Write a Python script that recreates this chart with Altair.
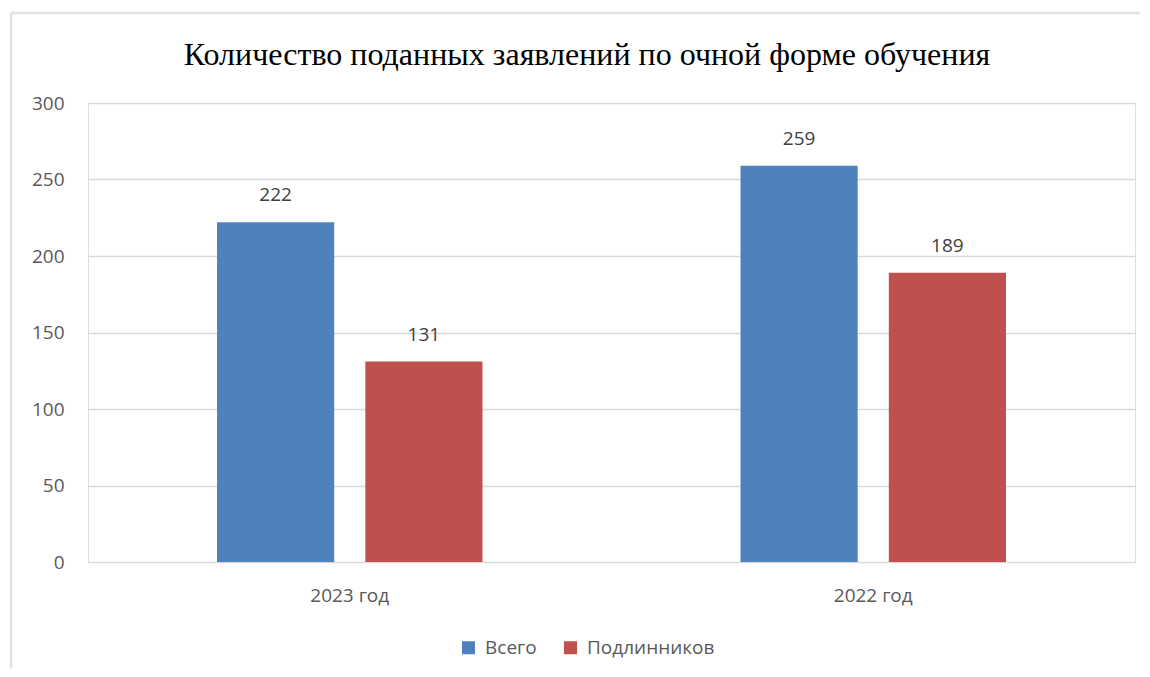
import altair as alt
import pandas as pd

years = ["2023 год", "2022 год"]
series = ["Всего", "Подлинников"]
vsego = [222, 259]
podl = [131, 189]
colors = ["#4F81BD", "#C0504D"]

rows = []
for i, y in enumerate(years):
    rows.append({"year": y, "series": series[0], "value": vsego[i]})
    rows.append({"year": y, "series": series[1], "value": podl[i]})
df = pd.DataFrame(rows)

FONT = "Open Sans"

base = alt.Chart(df).encode(
    x=alt.X("year:N", sort=years,
            scale=alt.Scale(paddingInner=0, paddingOuter=0),
            axis=alt.Axis(title=None, labelAngle=0, domain=False, ticks=False,
                          labelPadding=24, labelFontSize=19, labelColor="#595959",
                          labelFont=FONT)),
    xOffset=alt.XOffset("series:N", sort=series,
                        scale=alt.Scale(paddingInner=0.21, paddingOuter=0.87)),
)

bars = base.mark_bar().encode(
    y=alt.Y("value:Q", scale=alt.Scale(domain=[0, 300]),
            axis=alt.Axis(title=None, values=[0, 50, 100, 150, 200, 250, 300],
                          domain=False, ticks=False, labelPadding=24,
                          labelFontSize=19, labelColor="#595959", labelFont=FONT,
                          gridColor="#d9d9d9", gridWidth=1.5)),
    color=alt.Color("series:N", sort=series,
                    scale=alt.Scale(domain=series, range=colors),
                    legend=alt.Legend(title=None, orient="none", direction="horizontal",
                                      legendX=371, legendY=535,
                                      symbolType="square", symbolSize=169,
                                      symbolStrokeWidth=0, labelFontSize=19,
                                      labelColor="#595959", labelFont=FONT,
                                      labelOffset=7, columnPadding=24)),
)

labels = base.mark_text(dy=-17, baseline="bottom", fontSize=19, color="#404040",
                        font=FONT).encode(
    y="value:Q",
    text="value:Q",
)

title_df = pd.DataFrame({"t": ["Количество поданных заявлений по очной форме обучения"]})
title = alt.Chart(title_df).mark_text(font="Liberation Serif", fontSize=32,
                                      color="#000000", baseline="alphabetic",
                                      align="center").encode(
    text="t:N", x=alt.value(499), y=alt.value(-38))

frame_v = alt.Chart(pd.DataFrame({"a": [0]})).mark_rule(color="#e3e3e3", strokeWidth=2.5).encode(
    x=alt.value(-77), y=alt.value(-90), y2=alt.value(600))
frame_h = alt.Chart(pd.DataFrame({"a": [0]})).mark_rule(color="#e3e3e3", strokeWidth=2.5).encode(
    x=alt.value(-77), x2=alt.value(1060), y=alt.value(-90))

chart = alt.layer(frame_v, frame_h, title, bars, labels).properties(
    width=1047, height=459,
    autosize=alt.AutoSizeParams(type="none"),
    padding={"left": 80, "top": 95, "right": 5, "bottom": 106},
).configure_view(stroke=None).configure(background="white")

chart.save("out.html", embed_options={"renderer": "svg", "actions": False})
